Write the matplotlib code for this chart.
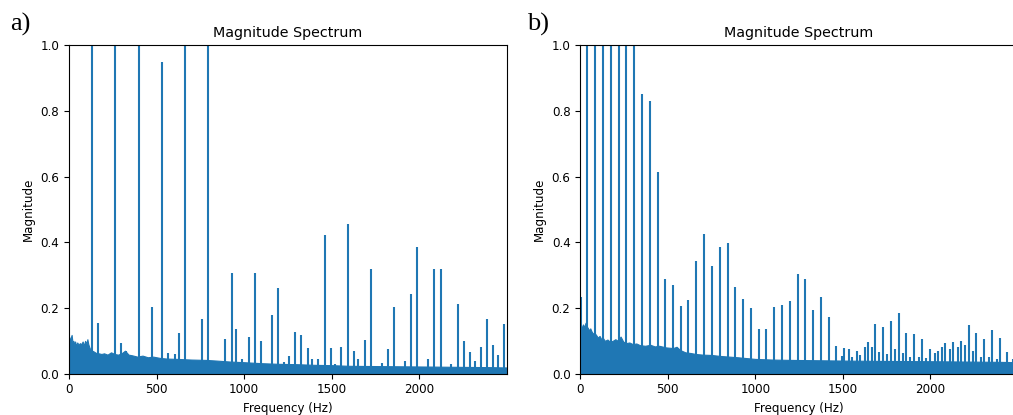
import matplotlib
matplotlib.use('Agg')
import matplotlib.pyplot as plt

# ---- a) peaks (Hz, magnitude); the ones above 1.0 are clipped in the original
peaks_a_freq = [130, 166, 263, 298, 324, 397, 475, 530, 565, 606, 627, 662, 759, 794,
                891, 929, 954, 991, 1026, 1061, 1098, 1157, 1195, 1226, 1254, 1289, 1327,
                1364, 1389, 1425, 1460, 1495, 1522, 1556, 1592, 1628, 1653, 1689, 1725,
                1789, 1821, 1858, 1918, 1955, 1990, 2052, 2087, 2123, 2184, 2220, 2256,
                2292, 2317, 2353, 2390, 2424, 2450, 2485]
peaks_a_mag = [1.5, 0.155, 1.5, 0.093, 0.07, 1.5, 0.202, 0.95, 0.063, 0.06, 0.123, 1.5,
               0.167, 1.5, 0.107, 0.306, 0.135, 0.045, 0.111, 0.306, 0.10, 0.18, 0.262,
               0.037, 0.054, 0.126, 0.119, 0.077, 0.044, 0.045, 0.422, 0.078, 0.03,
               0.082, 0.455, 0.07, 0.045, 0.104, 0.32, 0.033, 0.076, 0.203, 0.04, 0.242,
               0.385, 0.045, 0.32, 0.32, 0.03, 0.212, 0.10, 0.067, 0.04, 0.08, 0.165,
               0.088, 0.058, 0.15]

# ---- a) noise floor (upper envelope, read off the picture)
noise_a_freq = [0, 5, 10, 15, 20, 25, 30, 35, 40, 47, 55, 62, 70, 78, 85, 92, 100, 105,
                110, 118, 125, 140, 155, 170, 185, 200, 220, 240, 260, 280, 300, 320,
                340, 360, 390, 420, 450, 480, 520, 560, 620, 700, 780, 840, 920, 1000,
                1100, 1200, 1300, 1400, 1500, 1600, 1800, 2000, 2200, 2400, 2499]
noise_a_level = [0.113, 0.1, 0.11, 0.118, 0.095, 0.1, 0.09, 0.098, 0.085, 0.095, 0.088,
                 0.093, 0.09, 0.098, 0.085, 0.1, 0.092, 0.105, 0.09, 0.078, 0.072, 0.068,
                 0.063, 0.062, 0.06, 0.062, 0.058, 0.065, 0.06, 0.058, 0.062, 0.07, 0.058,
                 0.056, 0.052, 0.055, 0.05, 0.052, 0.048, 0.046, 0.045, 0.043, 0.042,
                 0.04, 0.037, 0.035, 0.032, 0.03, 0.029, 0.027, 0.026, 0.024, 0.023,
                 0.022, 0.021, 0.02, 0.019]

# ---- b) peaks
peaks_b_freq = [5, 40, 86, 130, 175, 219, 263, 307, 353, 399, 445, 485, 529, 574, 618,
                662, 708, 752, 796, 842, 885, 929, 975, 1019, 1063, 1109, 1153, 1197, 1241,
                1285, 1329, 1375, 1419, 1463, 1495, 1508, 1535, 1554, 1581, 1596, 1625,
                1642, 1667, 1684, 1707, 1730, 1753, 1774, 1800, 1819, 1844, 1863, 1886,
                1907, 1932, 1953, 1976, 1997, 2024, 2041, 2068, 2085, 2111, 2130, 2157,
                2174, 2199, 2218, 2245, 2262, 2289, 2308, 2333, 2352, 2378, 2396, 2440,
                2469]
peaks_b_mag = [0.235, 1.5, 1.5, 1.5, 1.5, 1.5, 1.5, 1.5, 0.85, 0.83, 0.615, 0.288, 0.271,
               0.206, 0.224, 0.342, 0.425, 0.329, 0.385, 0.399, 0.265, 0.228, 0.199, 0.137,
               0.135, 0.203, 0.21, 0.222, 0.305, 0.287, 0.195, 0.233, 0.173, 0.084, 0.055,
               0.079, 0.075, 0.05, 0.068, 0.058, 0.08, 0.098, 0.08, 0.15, 0.066, 0.143,
               0.06, 0.16, 0.075, 0.184, 0.063, 0.125, 0.05, 0.122, 0.05, 0.107, 0.048,
               0.074, 0.064, 0.068, 0.081, 0.092, 0.075, 0.095, 0.081, 0.10, 0.087, 0.148,
               0.07, 0.125, 0.05, 0.107, 0.052, 0.132, 0.045, 0.11, 0.065, 0.046]

# ---- b) noise floor
noise_b_freq = [0, 8, 15, 22, 30, 35, 42, 50, 57, 63, 72, 80, 90, 100, 110, 120, 130,
                140, 155, 170, 185, 200, 215, 230, 245, 260, 280, 300, 320, 340, 370,
                400, 425, 450, 490, 530, 550, 570, 600, 630, 660, 700, 750, 800, 850,
                900, 1000, 1100, 1200, 1350, 1500, 1700, 2000, 2200, 2400, 2499]
noise_b_level = [0.148, 0.14, 0.15, 0.142, 0.155, 0.145, 0.14, 0.132, 0.138, 0.13, 0.122,
                 0.125, 0.118, 0.11, 0.115, 0.105, 0.108, 0.1, 0.104, 0.097, 0.1, 0.105,
                 0.1, 0.113, 0.098, 0.093, 0.095, 0.09, 0.092, 0.087, 0.085, 0.088, 0.083,
                 0.085, 0.08, 0.078, 0.082, 0.072, 0.065, 0.063, 0.06, 0.058, 0.057, 0.054,
                 0.052, 0.05, 0.045, 0.043, 0.042, 0.041, 0.04, 0.039, 0.038, 0.037,
                 0.036, 0.035]

fig = plt.figure(figsize=(10.13, 4.15), dpi=100)
ax_a = fig.add_axes([69 / 1013, 41.3 / 415, 437.5 / 1013, 328.5 / 415])
ax_b = fig.add_axes([580.3 / 1013, 41.3 / 415, 437.5 / 1013, 328.5 / 415])

panels = [(ax_a, noise_a_freq, noise_a_level, peaks_a_freq, peaks_a_mag),
          (ax_b, noise_b_freq, noise_b_level, peaks_b_freq, peaks_b_mag)]

for ax, nf, nl, pf, pm in panels:
    ax.fill_between(nf, 0, nl, color='C0', lw=0.8, edgecolor='C0')
    ax.vlines(pf, 0, pm, color='C0', lw=1.5)
    ax.set_xlim(0, 2499)
    ax.set_ylim(0, 1)
    ax.set_title('Magnitude Spectrum', fontsize=10.3)
    ax.set_xlabel('Frequency (Hz)', fontsize=8.6)
    ax.set_ylabel('Magnitude', fontsize=8.6)
    ax.tick_params(labelsize=8.6)

fig.text(10 / 1013, 1 - 31 / 415, 'a)', fontsize=19, family='Liberation Serif')
fig.text(527 / 1013, 1 - 31 / 415, 'b)', fontsize=19, family='Liberation Serif')

plt.savefig('out.png', dpi=100)
plt.close()
